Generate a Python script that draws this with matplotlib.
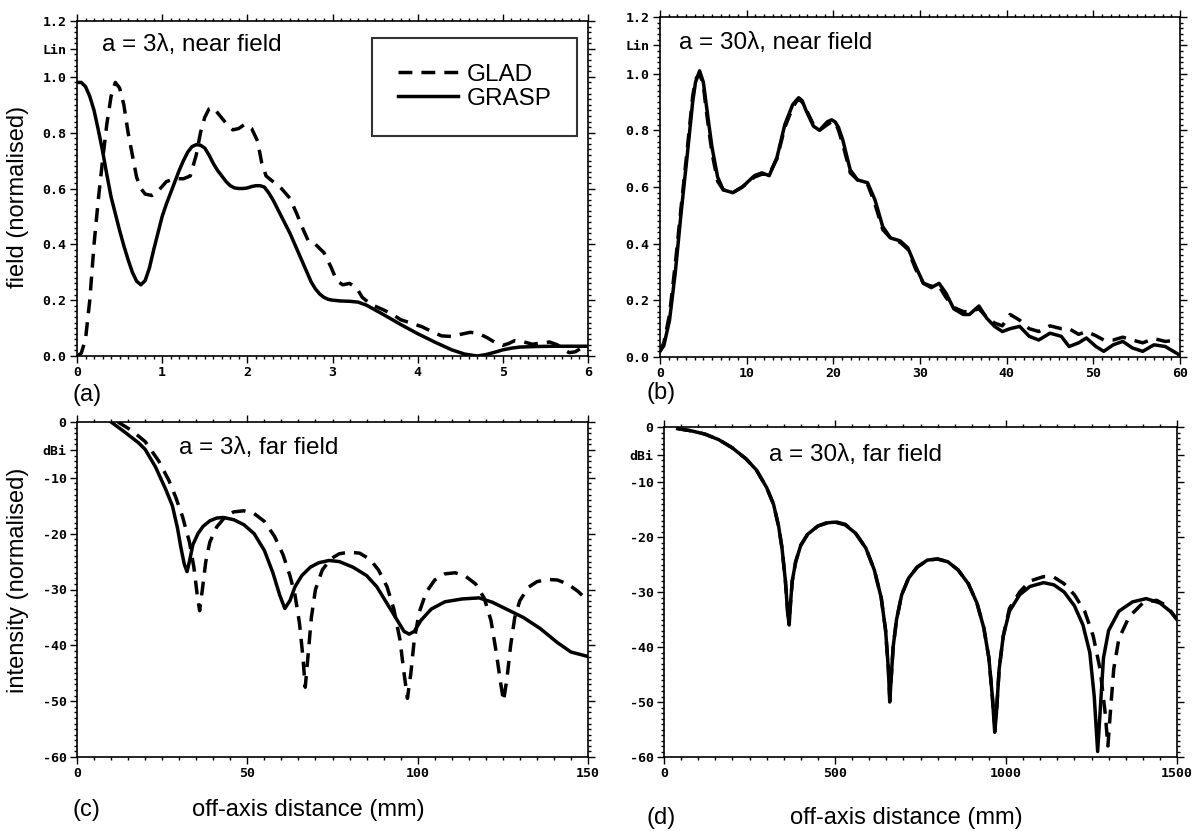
import matplotlib
matplotlib.use("Agg")
import matplotlib.pyplot as plt
from matplotlib.ticker import MultipleLocator

plt.rcParams['font.family'] = ['Liberation Sans', 'DejaVu Sans']
plt.rcParams['axes.unicode_minus'] = False

# (a) a = 3 lambda, near field
a_grasp_x = [0, 0.05, 0.1, 0.15, 0.2, 0.25, 0.3, 0.35, 0.4, 0.45, 0.5, 0.55, 0.6, 0.65,
             0.7, 0.75, 0.8, 0.85, 0.9, 0.95, 1.0, 1.05, 1.1, 1.15, 1.2, 1.25, 1.3, 1.35,
             1.4, 1.45, 1.5, 1.55, 1.6, 1.65, 1.7, 1.75, 1.8, 1.85, 1.9, 1.95, 2.0, 2.05,
             2.1, 2.15, 2.2, 2.25, 2.3, 2.4, 2.5, 2.6, 2.7, 2.75, 2.8, 2.85, 2.9, 2.95,
             3.0, 3.1, 3.2, 3.3, 3.4, 3.5, 3.6, 3.8, 4.0, 4.2, 4.4, 4.55, 4.7, 4.8, 4.9,
             5.0, 5.1, 5.2, 5.4, 5.6, 6.0]
a_grasp_y = [0.98, 0.98, 0.965, 0.93, 0.88, 0.81, 0.735, 0.65, 0.57, 0.51, 0.45, 0.395,
             0.345, 0.3, 0.268, 0.255, 0.27, 0.315, 0.38, 0.44, 0.5, 0.545, 0.585, 0.625,
             0.665, 0.7, 0.73, 0.75, 0.757, 0.755, 0.745, 0.72, 0.69, 0.665, 0.645, 0.625,
             0.61, 0.602, 0.6, 0.6, 0.602, 0.607, 0.61, 0.61, 0.605, 0.585, 0.56, 0.5,
             0.44, 0.37, 0.3, 0.265, 0.24, 0.222, 0.21, 0.203, 0.2, 0.197, 0.196, 0.193,
             0.182, 0.165, 0.148, 0.113, 0.08, 0.05, 0.022, 0.007, 0.0, 0.005, 0.013,
             0.022, 0.028, 0.032, 0.034, 0.035, 0.035]
a_glad_x = [0, 0.05, 0.1, 0.15, 0.2, 0.25, 0.3, 0.35, 0.4, 0.45, 0.5, 0.55, 0.6, 0.65,
            0.7, 0.75, 0.8, 0.88, 0.95, 1.05, 1.15, 1.25, 1.33, 1.4, 1.45, 1.5, 1.55, 1.6,
            1.68, 1.76, 1.83, 1.9, 1.97, 2.05, 2.12, 2.17, 2.22, 2.3, 2.4, 2.5, 2.58,
            2.66, 2.72, 2.8, 2.9, 2.98, 3.05, 3.12, 3.2, 3.28, 3.35, 3.45, 3.6, 3.7, 3.8,
            3.95, 4.05, 4.15, 4.28, 4.4, 4.51, 4.62, 4.72, 4.82, 4.9, 5.0, 5.07, 5.14,
            5.25, 5.35, 5.45, 5.55, 5.64, 5.72, 5.78, 5.85, 5.92, 6.0]
a_glad_y = [0.0, 0.01, 0.06, 0.2, 0.4, 0.56, 0.7, 0.83, 0.93, 0.98, 0.96, 0.9, 0.8, 0.72,
            0.64, 0.6, 0.58, 0.575, 0.59, 0.625, 0.635, 0.635, 0.645, 0.72, 0.8, 0.855,
            0.885, 0.89, 0.86, 0.83, 0.81, 0.815, 0.83, 0.815, 0.77, 0.69, 0.645, 0.625,
            0.6, 0.565, 0.51, 0.45, 0.41, 0.4, 0.37, 0.32, 0.27, 0.255, 0.26, 0.245, 0.21,
            0.185, 0.165, 0.15, 0.13, 0.115, 0.105, 0.09, 0.072, 0.07, 0.078, 0.085, 0.08,
            0.065, 0.05, 0.038, 0.045, 0.055, 0.05, 0.042, 0.047, 0.05, 0.04, 0.022, 0.012,
            0.015, 0.028, 0.04]

# (b) a = 30 lambda, near field
b_grasp_x = [0, 0.44, 1.1, 1.77, 2.44, 3.1, 3.77, 4.1, 4.57, 5.0, 5.3, 5.6, 6.0, 6.65,
             7.3, 8.4, 9.5, 10.9, 11.75, 12.6, 13.5, 14.4, 15.3, 15.7, 16.0, 16.4, 16.85,
             17.7, 18.4, 19.3, 19.8, 20.2, 20.6, 21.1, 21.95, 22.8, 23.95, 24.8, 25.7,
             26.6, 27.7, 28.6, 29.5, 30.4, 31.3, 32.2, 33.0, 33.9, 35.0, 35.7, 36.8, 37.7,
             38.6, 39.5, 40.4, 41.5, 42.6, 43.7, 45.0, 46.3, 47.2, 48.3, 49.2, 50.3, 51.2,
             52.3, 53.4, 54.5, 55.7, 57.0, 58.3, 59.9]
b_grasp_y = [0.02, 0.04, 0.13, 0.3, 0.51, 0.7, 0.9, 0.97, 1.01, 0.97, 0.9, 0.83, 0.74,
             0.635, 0.59, 0.58, 0.6, 0.64, 0.65, 0.64, 0.705, 0.82, 0.89, 0.905, 0.915,
             0.905, 0.87, 0.815, 0.8, 0.83, 0.837, 0.83, 0.81, 0.765, 0.66, 0.625, 0.615,
             0.555, 0.46, 0.42, 0.41, 0.385, 0.32, 0.26, 0.245, 0.26, 0.225, 0.17, 0.15,
             0.15, 0.18, 0.137, 0.108, 0.09, 0.1, 0.108, 0.073, 0.06, 0.084, 0.073, 0.037,
             0.05, 0.067, 0.037, 0.02, 0.043, 0.055, 0.032, 0.02, 0.043, 0.037, 0.008]
b_glad_x = [0, 0.44, 1.1, 1.77, 2.44, 3.1, 3.77, 4.1, 4.57, 5.0, 5.3, 5.6, 6.0, 6.65,
            7.3, 8.4, 9.5, 10.9, 11.75, 12.6, 13.5, 14.4, 15.3, 15.7, 16.0, 16.4, 16.85,
            17.7, 18.4, 19.3, 19.8, 20.2, 20.6, 21.1, 21.95, 22.8, 23.95, 24.8, 25.7,
            26.6, 27.7, 28.6, 29.5, 30.4, 31.3, 32.2, 33.0, 33.9, 35.0, 35.7, 36.8, 37.7,
            38.6, 39.5, 40.4, 41.5, 42.6, 43.7, 45.0, 46.3, 47.2, 48.3, 49.2, 50.3, 51.2,
            52.3, 53.4, 54.5, 55.7, 57.0, 58.3, 59.9]
b_glad_y = [0.02, 0.05, 0.15, 0.33, 0.53, 0.72, 0.92, 0.98, 1.0, 0.96, 0.88, 0.81, 0.72,
            0.62, 0.59, 0.58, 0.6, 0.635, 0.645, 0.645, 0.7, 0.81, 0.88, 0.9, 0.91, 0.9,
            0.875, 0.82, 0.8, 0.82, 0.83, 0.83, 0.8, 0.75, 0.65, 0.625, 0.61, 0.54, 0.45,
            0.42, 0.405, 0.38, 0.31, 0.26, 0.25, 0.25, 0.21, 0.175, 0.16, 0.16, 0.17,
            0.14, 0.12, 0.11, 0.15, 0.13, 0.1, 0.09, 0.11, 0.1, 0.1, 0.08, 0.09, 0.075,
            0.06, 0.06, 0.07, 0.06, 0.05, 0.065, 0.055, 0.06]

# (c) a = 3 lambda, far field
c_grasp_x = [10, 14, 18, 20, 23, 26, 28, 29.5, 30.5, 31.5, 32.3, 33, 34, 35.5, 37, 39, 41,
             43, 46, 49, 52, 55, 57.5, 59.5, 61, 62.5, 64, 66, 68.5, 71, 74, 77, 81, 85,
             88, 91, 94, 96, 97.5, 99, 101, 104, 108, 113, 118, 122, 126, 131, 136, 141,
             145, 150]
c_grasp_y = [0, -1.8, -3.7, -4.9, -8, -12, -15, -19, -22.5, -25.5, -26.8, -25, -22, -20,
             -18.7, -17.7, -17.2, -17.1, -17.5, -18.4, -20, -23, -27, -31, -33.4, -32,
             -29.5, -27.5, -26, -25.2, -24.8, -25, -26, -27.5, -29.5, -32.5, -35.5, -37.5,
             -38, -37.5, -35.5, -33.5, -32.2, -31.7, -31.5, -32.3, -33.5, -35, -37, -39.5,
             -41.2, -42]
c_glad_x = [12, 16, 20, 24, 27, 29, 31, 33, 34.3, 35.3, 36, 36.8, 37.8, 39, 41, 43.5, 46,
            49, 52, 55, 58, 60.5, 62.5, 64, 65.3, 66.3, 67, 67.8, 68.8, 70, 72, 74.5, 77,
            80, 83, 86, 88.5, 91, 93, 94.8, 96, 97, 98, 99, 100.5, 102.5, 105, 108, 111,
            114, 117, 119.5, 121.5, 123, 124.3, 125.2, 126.2, 127.3, 128.5, 130, 132.5,
            135, 138, 141, 144, 147, 150]
c_glad_y = [0, -1.5, -3.5, -7, -10.5, -13.5, -17, -21.5, -26, -31, -33.8, -30, -25, -21.5,
            -18.8, -17, -16.1, -15.9, -16.4, -17.8, -20.5, -23.8, -27.5, -31, -36, -42,
            -47.5, -42, -35, -30, -26.5, -24.5, -23.6, -23.3, -23.5, -24.6, -26.5, -29.5,
            -33.5, -39, -45, -49.5, -45, -39, -34, -30.5, -28.3, -27.2, -27, -27.6, -29,
            -31.5, -35.5, -41, -46.5, -50, -46, -40, -35, -32, -29.6, -28.6, -28.2, -28.3,
            -29, -30.3, -32]

# (d) a = 30 lambda, far field
d_grasp_x = [40, 80, 120, 160, 200, 240, 270, 300, 320, 335, 345, 355, 362, 366, 370, 375,
             385, 400, 420, 450, 480, 500, 530, 560, 590, 615, 635, 648, 656, 660, 664,
             670, 680, 695, 715, 740, 770, 800, 830, 860, 890, 915, 935, 950, 960, 967,
             972, 980, 992, 1010, 1040, 1070, 1110, 1140, 1170, 1200, 1225, 1245, 1258,
             1268, 1275, 1285, 1300, 1330, 1370, 1410, 1450, 1480, 1500]
d_grasp_y = [-0.3, -0.7, -1.3, -2.3, -3.8, -5.8, -7.8, -11, -14, -18, -22, -28, -34, -36,
             -32, -28, -24.5, -21.5, -19.5, -18, -17.4, -17.3, -17.8, -19.3, -22, -26, -31,
             -37, -44, -50, -46, -40, -35, -30.5, -27.5, -25.5, -24.2, -24, -24.5, -26,
             -28.5, -32, -36.5, -42, -49, -55.5, -52, -44, -38, -33.5, -30.5, -29, -28.3,
             -28.7, -30, -32.5, -36, -41, -49, -59, -52, -42, -37, -33.5, -31.8, -31.2,
             -32, -33.5, -35]
d_glad_x = [40, 80, 120, 160, 200, 240, 270, 300, 320, 335, 345, 355, 362, 366, 370, 375,
            385, 400, 420, 450, 480, 500, 530, 560, 590, 615, 635, 648, 656, 660, 664,
            670, 680, 695, 715, 740, 770, 800, 830, 860, 890, 915, 935, 950, 960, 967,
            972, 980, 992, 1010, 1040, 1070, 1110, 1140, 1170, 1200, 1230, 1255, 1275,
            1290, 1298, 1305, 1315, 1330, 1360, 1400, 1440, 1470, 1500]
d_glad_y = [-0.3, -0.7, -1.3, -2.3, -3.8, -5.8, -7.8, -11, -14, -18, -22, -28, -34, -35,
            -32, -28, -24.5, -21.5, -19.5, -18, -17.3, -17.2, -17.7, -19.3, -22, -26, -31,
            -37, -44, -49, -46, -40, -35, -30.5, -27.5, -25.5, -24.2, -24, -24.5, -26,
            -28.5, -32, -36.5, -42, -49, -54, -52, -44, -38, -33, -30, -28, -27.2, -27.3,
            -28.5, -30.5, -33.5, -38, -44, -52, -58, -52, -44, -38.5, -34.5, -32, -31.5,
            -32.5, -35]

a_yticks = [0.0, 0.2, 0.4, 0.6, 0.8, 1.0, 1.1, 1.2]
a_ylabels = ['0.0', '0.2', '0.4', '0.6', '0.8', '1.0', 'Lin', '1.2']
db_yticks = [0, -5, -10, -20, -30, -40, -50, -60]
db_ylabels = ['0', 'dBi', '-10', '-20', '-30', '-40', '-50', '-60']

W, H = 1202, 831
fig = plt.figure(figsize=(W / 100, H / 100), dpi=100)


def box(l, t, r, b):
    return [l / W, 1 - b / H, (r - l) / W, (b - t) / H]


ax_a = fig.add_axes(box(77, 21, 588, 356))
ax_b = fig.add_axes(box(660, 17, 1180, 357))
ax_c = fig.add_axes(box(77, 422, 588, 757))
ax_d = fig.add_axes(box(664, 427, 1177, 757))

tickfont = dict(family='DejaVu Sans Mono', weight='bold', size=9.5)
LW = 2.5
DASH = (4, 2.6)


def style(ax, xlim, ylim, xticks, xminor, yticks, ylabels, yminor):
    ax.set_xlim(*xlim)
    ax.set_ylim(*ylim)
    ax.set_xticks(xticks, [str(t) for t in xticks])
    ax.set_yticks(yticks, ylabels)
    ax.xaxis.set_minor_locator(MultipleLocator(xminor))
    ax.yaxis.set_minor_locator(MultipleLocator(yminor))
    ax.tick_params(which='both', direction='out', top=True, right=True, width=1.0,
                   labeltop=False, labelright=False)
    ax.tick_params(which='major', length=5, pad=2.5)
    ax.tick_params(which='minor', length=2.5)
    for lab in ax.get_xticklabels() + ax.get_yticklabels():
        lab.set_fontproperties(tickfont)
    for sp in ax.spines.values():
        sp.set_linewidth(1.2)


ax_a.plot(a_glad_x, a_glad_y, color='black', lw=LW, dashes=DASH, label='GLAD')
ax_a.plot(a_grasp_x, a_grasp_y, color='black', lw=LW, label='GRASP')
style(ax_a, (0, 6), (0, 1.2), [0, 1, 2, 3, 4, 5, 6], 0.1, a_yticks, a_ylabels, 0.02)

ax_b.plot(b_glad_x, b_glad_y, color='black', lw=LW, dashes=DASH)
ax_b.plot(b_grasp_x, b_grasp_y, color='black', lw=LW)
style(ax_b, (0, 60), (0, 1.2), [0, 10, 20, 30, 40, 50, 60], 1, a_yticks, a_ylabels, 0.02)

ax_c.plot(c_glad_x, c_glad_y, color='black', lw=LW, dashes=DASH)
ax_c.plot(c_grasp_x, c_grasp_y, color='black', lw=LW)
style(ax_c, (0, 150), (-60, 0), [0, 50, 100, 150], 5, db_yticks, db_ylabels, 1)

ax_d.plot(d_glad_x, d_glad_y, color='black', lw=LW, dashes=DASH)
ax_d.plot(d_grasp_x, d_grasp_y, color='black', lw=LW)
style(ax_d, (0, 1500), (-60, 0), [0, 500, 1000, 1500], 50, db_yticks, db_ylabels, 1)

leg = ax_a.legend(loc='upper left', bbox_to_anchor=((372 - 77) / 511, 1 - (38 - 21) / 335),
                  fontsize=17.5, frameon=True, fancybox=False, edgecolor='black',
                  handlelength=2.5, handletextpad=0.35, borderpad=1.05, labelspacing=0.1,
                  borderaxespad=0)
leg.get_frame().set_linewidth(1.5)

tsize = 17.5
fig.text(102 / W, 1 - 45 / H, 'a = 3λ, near field', fontsize=tsize, va='center')
fig.text(679 / W, 1 - 43 / H, 'a = 30λ, near field', fontsize=tsize, va='center')
fig.text(179 / W, 1 - 448 / H, 'a = 3λ, far field', fontsize=tsize, va='center')
fig.text(769 / W, 1 - 455 / H, 'a = 30λ, far field', fontsize=tsize, va='center')

lsize = 17
fig.text(18 / W, 1 - 197 / H, 'field (normalised)', fontsize=lsize, rotation=90,
         ha='center', va='center')
fig.text(18 / W, 1 - 580 / H, 'intensity (normalised)', fontsize=lsize, rotation=90,
         ha='center', va='center')
fig.text(308 / W, 1 - 810 / H, 'off-axis distance (mm)', fontsize=lsize, ha='center',
         va='center')
fig.text(906 / W, 1 - 818 / H, 'off-axis distance (mm)', fontsize=lsize, ha='center',
         va='center')

fig.text(72 / W, 1 - 395 / H, '(a)', fontsize=lsize, va='center')
fig.text(646 / W, 1 - 393 / H, '(b)', fontsize=lsize, va='center')
fig.text(73 / W, 1 - 810 / H, '(c)', fontsize=lsize, va='center')
fig.text(646 / W, 1 - 818 / H, '(d)', fontsize=lsize, va='center')

fig.savefig('out.png', dpi=100)
